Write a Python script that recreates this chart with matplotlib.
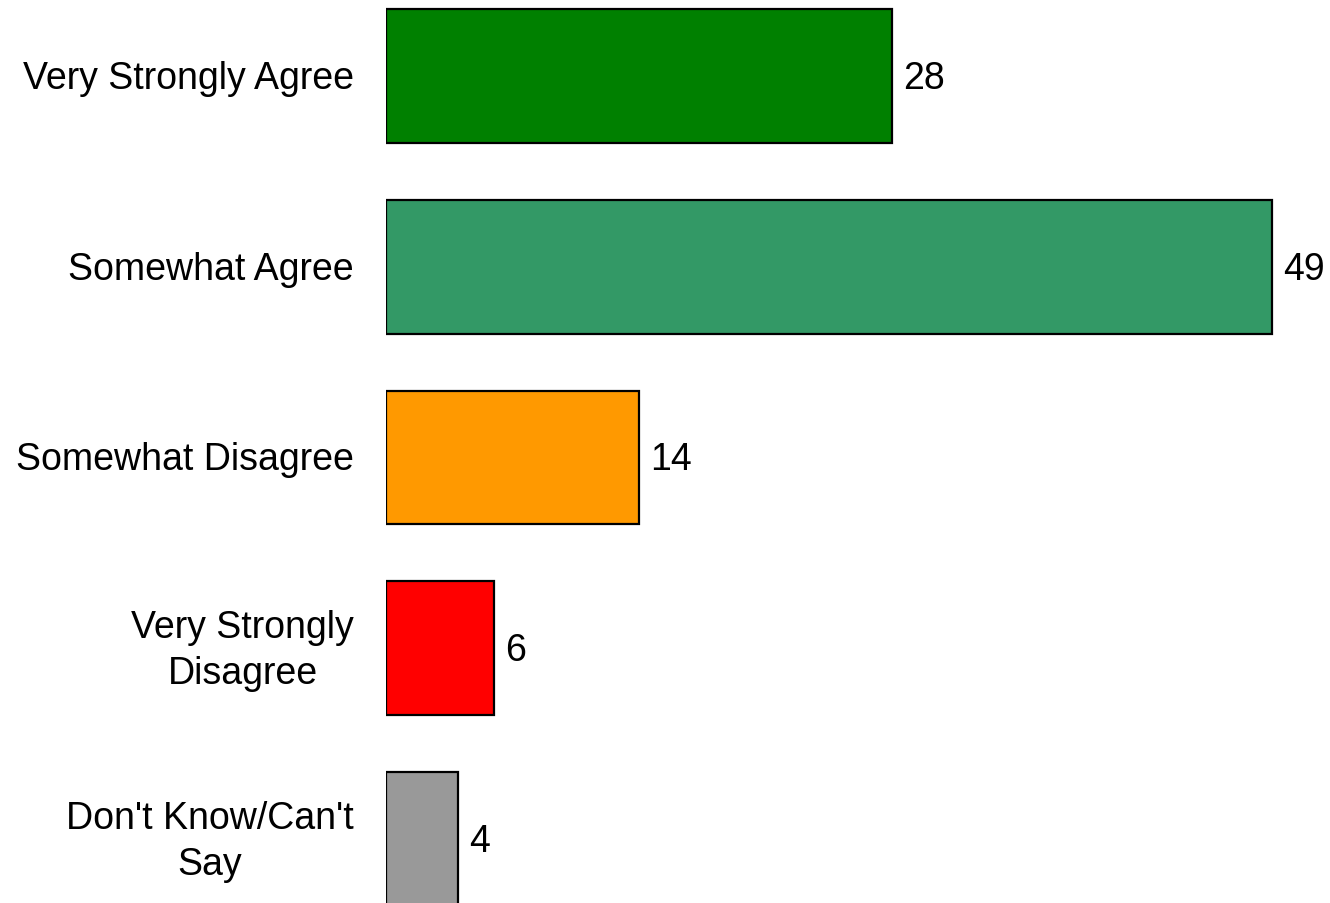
import matplotlib
matplotlib.use("Agg")
import matplotlib.pyplot as plt

categories = ["Very Strongly Agree", "Somewhat Agree", "Somewhat Disagree",
              "Very Strongly\nDisagree", "Don't Know/Can't\nSay"]
values = [28, 49, 14, 6, 4]
colors = ["#008000", "#339966", "#FF9900", "#FF0000", "#999999"]

plt.rcParams['font.family'] = ['Liberation Sans', 'DejaVu Sans']

fig = plt.figure(figsize=(13.3, 9.04), dpi=100)
ax = fig.add_axes([386/1330, 0, 944/1330, 1])
pos = list(range(len(categories)))
ax.barh(pos, values, height=0.70, color=colors, edgecolor="black", linewidth=1.6)
ax.set_xlim(0, 944/18.08)
ax.set_ylim(4 + 64/190.75, -77/190.75)
ax.axis("off")

fs = 27
for p, v, c in zip(pos, values, categories):
    ax.annotate(str(v), xy=(v, p), xytext=(11, -2), textcoords="offset pixels",
                ha="left", va="center", fontsize=fs)
    ax.annotate(c, xy=(0, p), xytext=(-32, -2), textcoords="offset pixels",
                ha="right", va="center", multialignment="center", fontsize=fs,
                linespacing=1.35)

fig.savefig("out.png", dpi=100)
